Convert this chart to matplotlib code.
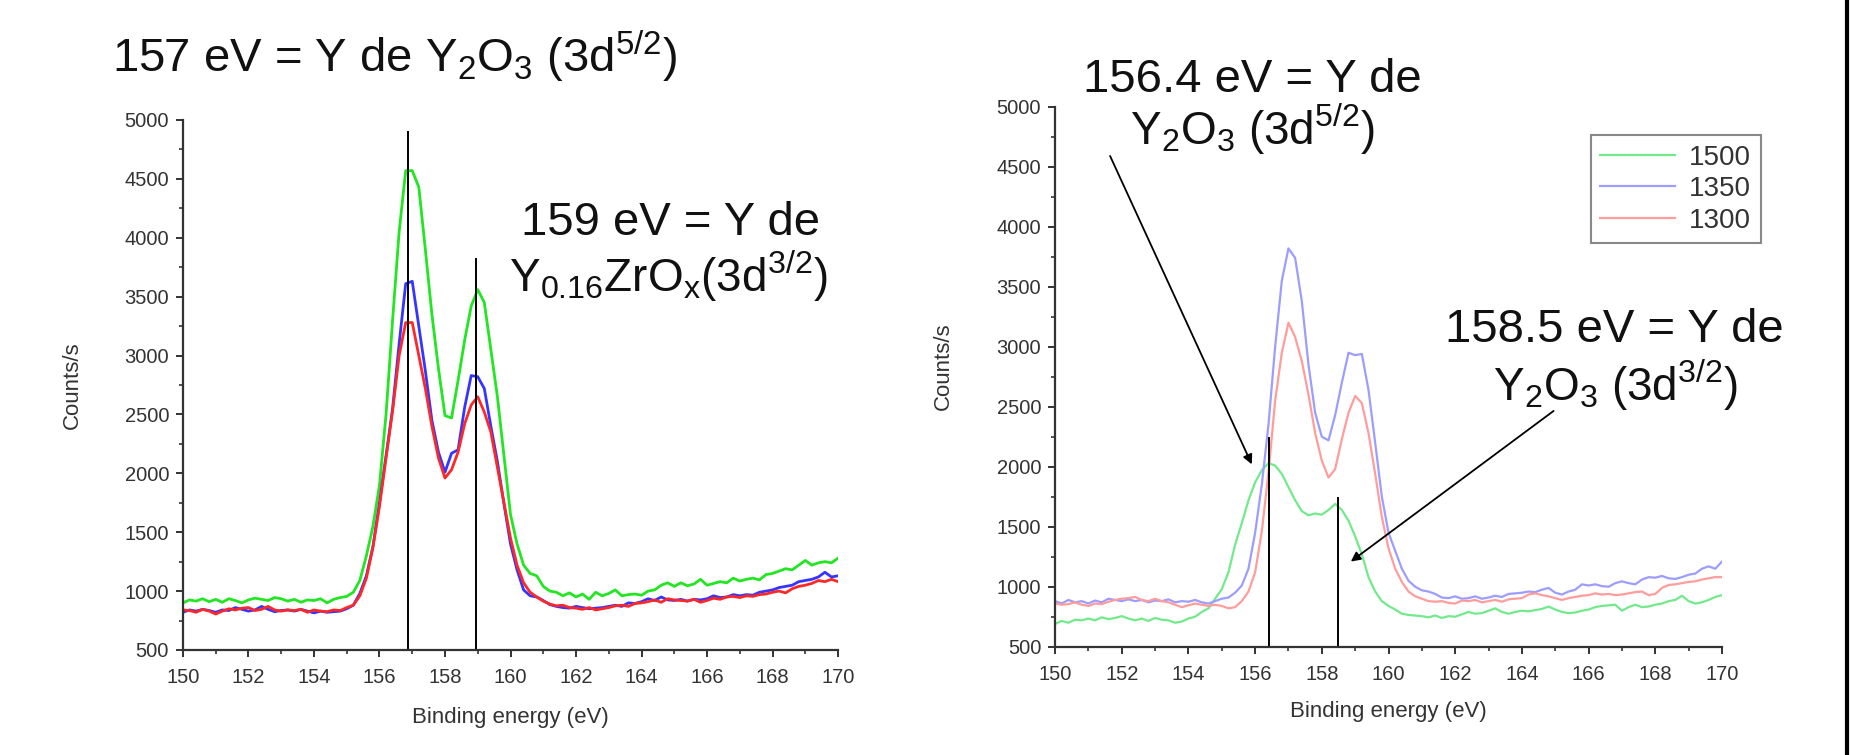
import numpy as np
import matplotlib
matplotlib.use('Agg')
import matplotlib.pyplot as plt
from matplotlib.lines import Line2D

plt.rcParams['font.family'] = ['Liberation Sans', 'DejaVu Sans']
plt.rcParams['mathtext.fontset'] = 'custom'
plt.rcParams['mathtext.rm'] = 'Liberation Sans'
plt.rcParams['mathtext.it'] = 'Liberation Sans'
plt.rcParams['mathtext.default'] = 'regular'

#binding energy grid, 0.2 eV steps from 150 to 170
energy = np.round(np.linspace(150, 170, 101), 1)

#left panel (counts/s)
left_green = [900, 925, 915, 935, 910, 930, 905, 935, 920, 900,
              925, 940, 930, 920, 945, 935, 915, 930, 905, 925,
              920, 935, 900, 930, 945, 955, 990, 1090, 1300, 1550,
              1900, 2500, 3300, 4050, 4570, 4570, 4430, 3900, 3350, 2890,
              2490, 2470, 2790, 3130, 3420, 3560, 3450, 3050, 2650, 2150,
              1650, 1400, 1220, 1150, 1130, 1040, 1000, 990, 960, 985,
              950, 975, 930, 990, 960, 980, 1010, 960, 970, 975,
              965, 1000, 1010, 1050, 1070, 1040, 1070, 1045, 1060, 1100,
              1050, 1065, 1080, 1070, 1110, 1085, 1100, 1110, 1095, 1140,
              1150, 1170, 1190, 1180, 1220, 1260, 1220, 1240, 1250, 1240,
              1280]
left_blue = [820, 840, 830, 845, 835, 820, 840, 835, 860, 845,
             830, 840, 870, 845, 825, 835, 840, 830, 845, 830,
             815, 830, 820, 825, 830, 850, 880, 980, 1130, 1380,
             1750, 2150, 2550, 3100, 3610, 3630, 3250, 2870, 2450, 2180,
             2010, 2170, 2200, 2560, 2830, 2820, 2720, 2400, 2100, 1740,
             1400, 1180, 1010, 960, 950, 920, 885, 870, 860, 855,
             870, 860, 850, 855, 860, 870, 880, 870, 900, 895,
             910, 935, 920, 950, 925, 920, 930, 915, 930, 925,
             935, 960, 945, 950, 970, 960, 970, 965, 990, 1000,
             1010, 1030, 1040, 1050, 1080, 1090, 1100, 1120, 1160, 1120,
             1130]
left_red = [840, 835, 820, 845, 830, 805, 830, 850, 840, 855,
            860, 835, 845, 870, 840, 830, 840, 835, 845, 820,
            840, 830, 825, 840, 835, 860, 880, 960, 1110, 1370,
            1720, 2130, 2530, 3000, 3280, 3280, 3000, 2720, 2400, 2130,
            1960, 2030, 2180, 2420, 2580, 2650, 2520, 2350, 2050, 1750,
            1450, 1220, 1070, 990, 950, 915, 890, 875, 880, 860,
            855, 845, 860, 840, 850, 860, 875, 880, 870, 895,
            900, 910, 925, 905, 935, 925, 920, 915, 930, 905,
            920, 940, 930, 950, 955, 945, 960, 955, 970, 975,
            990, 1000, 985, 1020, 1040, 1050, 1065, 1090, 1080, 1100,
            1080]

#right panel (counts/s), series by temperature
labels = ['1500', '1350', '1300']
right_green = [690, 715, 700, 725, 720, 735, 720, 745, 730, 740,
               755, 735, 720, 735, 715, 740, 725, 720, 700, 710,
               735, 750, 790, 820, 900, 980, 1120, 1350, 1530, 1720,
               1870, 1970, 2030, 2010, 1940, 1830, 1720, 1630, 1595, 1610,
               1600, 1640, 1690, 1640, 1550, 1420, 1270, 1080, 960, 880,
               840, 810, 775, 765, 760, 755, 745, 760, 740, 755,
               750, 770, 790, 775, 780, 800, 820, 790, 775, 790,
               800, 795, 805, 815, 835, 810, 790, 780, 785, 800,
               810, 830, 840, 845, 850, 800, 830, 850, 830, 835,
               850, 860, 880, 890, 925, 880, 860, 870, 890, 915,
               930]
right_blue = [880, 860, 890, 870, 880, 860, 885, 870, 900, 890,
              880, 895, 880, 890, 870, 885, 880, 895, 870, 880,
              875, 890, 870, 860, 880, 900, 910, 950, 1010, 1150,
              1450, 1850, 2350, 3000, 3550, 3820, 3740, 3380, 2850, 2450,
              2250, 2220, 2430, 2700, 2950, 2930, 2940, 2640, 2200, 1750,
              1450, 1300, 1150, 1050, 1000, 970, 960, 940, 910, 905,
              920, 900, 905, 920, 900, 910, 925, 915, 940, 945,
              950, 960, 955, 975, 990, 950, 935, 960, 975, 1020,
              1010, 1020, 1005, 1000, 1030, 1045, 1030, 1020, 1060, 1080,
              1075, 1090, 1070, 1065, 1080, 1100, 1110, 1150, 1170, 1150,
              1210]
right_red = [860, 850, 855, 870, 850, 840, 860, 855, 875, 890,
             900, 905, 915, 890, 880, 900, 880, 870, 850, 830,
             845, 860, 850, 840, 850, 840, 820, 830, 880, 960,
             1120, 1460, 1950, 2550, 2950, 3200, 3080, 2880, 2600, 2280,
             2050, 1910, 1980, 2230, 2450, 2590, 2530, 2280, 1940, 1580,
             1320, 1150, 1040, 960, 920, 900, 880, 875, 880, 865,
             860, 885, 880, 890, 870, 880, 890, 875, 895, 900,
             905, 935, 945, 930, 920, 905, 890, 905, 915, 925,
             930, 945, 935, 940, 930, 935, 945, 955, 960, 930,
             940, 990, 1015, 1020, 1030, 1040, 1045, 1060, 1070, 1080,
             1080]

#peak markers: (energy, top of the line)
left_marks = [(156.88, 4900), (158.95, 3820)]
right_marks = [(156.43, 2237), (158.48, 1740)]


fig = plt.figure(figsize=(18.5, 7.55), dpi=100)
ax1 = fig.add_axes([0.0989, 0.1391, 0.3541, 0.7020])
ax2 = fig.add_axes([0.5703, 0.1434, 0.3605, 0.7152])

ax1.plot(energy, left_green, color='#22e622', lw=2.0)
ax1.plot(energy, left_blue, color='#3535ff', lw=2.0)
ax1.plot(energy, left_red, color='#ff2828', lw=2.0)

ax2.plot(energy, right_green, color='#72ea8c', lw=1.6, label=labels[0])
ax2.plot(energy, right_blue, color='#9d9dff', lw=1.6, label=labels[1])
ax2.plot(energy, right_red, color='#ff9c9c', lw=1.6, label=labels[2])

for x, top in left_marks:
    ax1.plot([x, x], [500, top], color='black', lw=1.4)
for x, top in right_marks:
    ax2.plot([x, x], [500, top], color='black', lw=1.4)

for ax in (ax1, ax2):
    ax.set_xlim(150, 170)
    ax.set_ylim(500, 5000)
    ax.set_xticks(np.arange(150, 171, 2))
    ax.set_xticks(np.arange(150, 171, 1), minor=True)
    ax.set_yticks(np.arange(500, 5001, 500))
    ax.set_yticks(np.arange(500, 5001, 250), minor=True)
    ax.spines['top'].set_visible(False)
    ax.spines['right'].set_visible(False)
    for s in ('left', 'bottom'):
        ax.spines[s].set_color('#333333')
        ax.spines[s].set_linewidth(1.6)
    ax.tick_params(which='major', direction='out', length=5, width=1.4,
                   color='#333333', labelsize=14.5, labelcolor='#333333')
    ax.tick_params(axis='x', which='major', pad=8)
    ax.tick_params(axis='y', which='major', pad=5)
    ax.tick_params(which='minor', direction='out', length=3, width=1.2,
                   color='#333333')
    ax.set_xlabel('Binding energy (eV)', fontsize=16, color='#333333')
    ax.set_ylabel('Counts/s', fontsize=16, color='#333333')

ax1.xaxis.set_label_coords(0.5, -0.108)
ax1.yaxis.set_label_coords(-0.153, 0.5)
ax2.xaxis.set_label_coords(0.5, -0.100)
ax2.yaxis.set_label_coords(-0.151, 0.52)

leg = ax2.legend(loc='upper left', bbox_to_anchor=(0.803, 0.948),
                 borderaxespad=0, fontsize=20, handlelength=2.7,
                 handletextpad=0.5, labelspacing=0.2, borderpad=0.35,
                 fancybox=False, framealpha=1)
leg.get_frame().set_edgecolor('#888888')
leg.get_frame().set_linewidth(1.5)
for t in leg.get_texts():
    t.set_color('#333333')

#arrows pointing at the two peaks of the right panel
arrow = dict(arrowstyle='-|>', color='black', lw=1.3, mutation_scale=14,
             shrinkA=0, shrinkB=0)
ax2.annotate('', xy=(155.9, 2020), xytext=(151.65, 4590),
             arrowprops=arrow, annotation_clip=False)
ax2.annotate('', xy=(158.87, 1210), xytext=(164.95, 2465),
             arrowprops=arrow, annotation_clip=False)

fig.text(0.0605, 0.9046, '157 eV = Y de Y$_2$O$_3$ (3d$^{5/2}$)',
         fontsize=34, color='#111111', va='baseline')
fig.text(0.3625, 0.6887, '159 eV = Y de', fontsize=34, color='#111111',
         ha='center', va='baseline')
fig.text(0.3610, 0.6132, 'Y$_{0.16}$ZrO$_x$(3d$^{3/2}$)', fontsize=33,
         color='#111111', ha='center', va='baseline')
fig.text(0.6768, 0.8781, '156.4 eV = Y de', fontsize=34, color='#111111',
         ha='center', va='baseline')
fig.text(0.6768, 0.808, 'Y$_2$O$_3$ (3d$^{5/2}$)', fontsize=33,
         color='#111111', ha='center', va='baseline')
fig.text(0.8724, 0.547, '158.5 eV = Y de', fontsize=34, color='#111111',
         ha='center', va='baseline')
fig.text(0.8735, 0.4689, 'Y$_2$O$_3$ (3d$^{3/2}$)', fontsize=33,
         color='#111111', ha='center', va='baseline')

#black edge on the right side of the slide
fig.add_artist(Line2D([0.9985, 0.9985], [0, 1], transform=fig.transFigure,
                      color='black', lw=3))

plt.savefig('out.png', dpi=100)
plt.close()
